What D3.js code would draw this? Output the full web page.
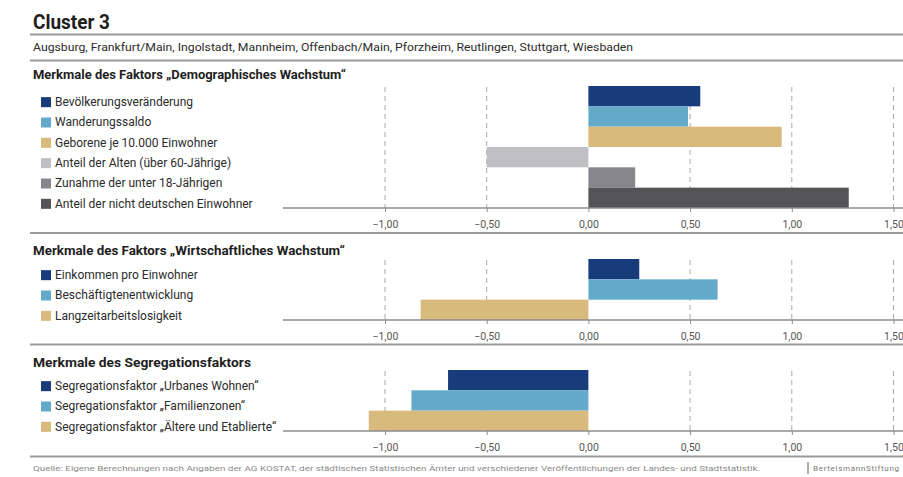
<!DOCTYPE html>
<html><head><meta charset="utf-8">
<script src="https://cdn.jsdelivr.net/npm/d3@7"></script>
<style>
html,body{margin:0;padding:0;background:#fff;}
svg{display:block;}
text{font-family:Roboto,"Open Sans",sans-serif;}
</style></head>
<body>
<svg id="chart" width="903" height="477"></svg>
<script>
// ---- data ----
const chartTitle = "Cluster 3";
const cities = "Augsburg, Frankfurt/Main, Ingolstadt, Mannheim, Offenbach/Main, Pforzheim, Reutlingen, Stuttgart, Wiesbaden";
const panelTitles = [
  "Merkmale des Faktors „Demographisches Wachstum“",
  "Merkmale des Faktors „Wirtschaftliches Wachstum“",
  "Merkmale des Segregationsfaktors"
];
const demoLabels = ["Bevölkerungsveränderung","Wanderungssaldo","Geborene je 10.000 Einwohner","Anteil der Alten (über 60-Jährige)","Zunahme der unter 18-Jährigen","Anteil der nicht deutschen Einwohner"];
const demoValues = [0.55, 0.49, 0.95, -0.50, 0.23, 1.28];
const wirtLabels = ["Einkommen pro Einwohner","Beschäftigtenentwicklung","Langzeitarbeitslosigkeit"];
const wirtValues = [0.25, 0.635, -0.825];
const segLabels = ["Segregationsfaktor „Urbanes Wohnen“","Segregationsfaktor „Familienzonen“","Segregationsfaktor „Ältere und Etablierte“"];
const segValues = [-0.69, -0.87, -1.08];
const tickValues = [-1, -0.5, 0, 0.5, 1, 1.5];
const sourceText = "Quelle: Eigene Berechnungen nach Angaben der AG KOSTAT, der städtischen Statistischen Ämter und verschiedener Veröffentlichungen der Landes- und Stadtstatistik.";
const brand = "BertelsmannStiftung";

// ---- styles ----
const demoColors = ["#173b7b","#62a9ca","#d7ba7c","#c0c0c4","#86868b","#545457"];
const threeColors = ["#173b7b","#62a9ca","#d7ba7c"];
const textCol = "#2b2b2b";
const lineCol = "#9a9a9a";

const svg = d3.select("#chart");
const x = d3.scaleLinear().domain([-1, 1.5]).range([385, 893.5]);
const de = d3.formatLocale({decimal:",", thousands:".", grouping:[3], currency:["","€"], minus:"−"});
const fmt = de.format(",.2f");

// header
svg.append("text").attr("x",33).attr("y",29).attr("font-size",21).attr("font-weight","bold")
  .attr("fill","#1e1e1e").attr("textLength",77).attr("lengthAdjust","spacingAndGlyphs").text(chartTitle);
function hline(y, w){ svg.append("line").attr("x1",30).attr("x2",903).attr("y1",y).attr("y2",y)
  .attr("stroke",lineCol).attr("stroke-width",w||2); }
hline(34.5);
svg.append("text").attr("x",33).attr("y",51).attr("font-size",11).attr("fill",textCol)
  .attr("textLength",600).attr("lengthAdjust","spacingAndGlyphs").text(cities);
hline(60.5);

const panels = [
  {title: panelTitles[0], labels: demoLabels, values: demoValues, colors: demoColors, titleY: 79, titleW: 313, top: 86, sep: 233},
  {title: panelTitles[1], labels: wirtLabels, values: wirtValues, colors: threeColors, titleY: 255, titleW: 312, top: 259, sep: 344.5},
  {title: panelTitles[2], labels: segLabels, values: segValues, colors: threeColors, titleY: 367, titleW: 218, top: 370, sep: 456.5}
];
const bandH = 20.33;

panels.forEach((p, pi) => {
  const g = svg.append("g");
  const n = p.values.length;
  const bottom = p.top + n*bandH;
  const y = d3.scaleBand().domain(d3.range(n)).range([p.top, bottom]).padding(0);

  g.append("text").attr("x",33).attr("y",p.titleY).attr("font-size",12).attr("font-weight","bold")
    .attr("fill","#1e1e1e").attr("textLength",p.titleW).attr("lengthAdjust","spacingAndGlyphs").text(p.title);

  // dashed grid
  g.selectAll(".grid").data(tickValues.filter(d => d !== 0)).join("line")
    .attr("x1", d => x(d)).attr("x2", d => x(d))
    .attr("y1", p.top + 1).attr("y2", bottom)
    .attr("stroke","#a8a8a8").attr("stroke-width",1).attr("stroke-dasharray","5,4");

  // bars
  g.selectAll(".bar").data(p.values).join("rect")
    .attr("x", d => x(Math.min(0,d))).attr("width", d => Math.abs(x(d)-x(0)))
    .attr("y", (d,i) => y(i)).attr("height", y.bandwidth())
    .attr("fill", (d,i) => p.colors[i]);

  // axis
  g.append("line").attr("x1",283).attr("x2",903).attr("y1",bottom).attr("y2",bottom)
    .attr("stroke","#8c8c8c").attr("stroke-width",1.3);
  const ax = g.append("g").attr("transform",`translate(0,${bottom})`)
    .call(d3.axisBottom(x).tickValues(tickValues).tickFormat(fmt).tickSize(4).tickPadding(9));
  ax.select(".domain").remove();
  ax.selectAll(".tick line").attr("stroke","#8c8c8c");
  ax.selectAll(".tick text").attr("font-size",10.5).attr("fill","#555")
    .attr("font-family","Roboto,'Open Sans',sans-serif");

  // legend
  p.labels.forEach((lab, i) => {
    const cy = p.top + (i+0.5)*bandH + 6;
    g.append("rect").attr("x",41).attr("y",cy-5).attr("width",10).attr("height",10).attr("fill",p.colors[i]);
    g.append("text").attr("x",55).attr("y",cy+4).attr("font-size",12).attr("fill",textCol).text(lab);
  });

  hline(p.sep);
});

// footer
svg.append("text").attr("x",33).attr("y",471).attr("font-size",7.6).attr("fill","#8a8a8a")
  .attr("textLength",727).attr("lengthAdjust","spacingAndGlyphs").text(sourceText);
svg.append("line").attr("x1",808).attr("x2",808).attr("y1",462).attr("y2",474).attr("stroke","#777").attr("stroke-width",1.2);
svg.append("text").attr("x",813).attr("y",471).attr("font-size",8).attr("fill","#777")
  .attr("textLength",86).attr("lengthAdjust","spacing").text(brand);
</script>
</body></html>
